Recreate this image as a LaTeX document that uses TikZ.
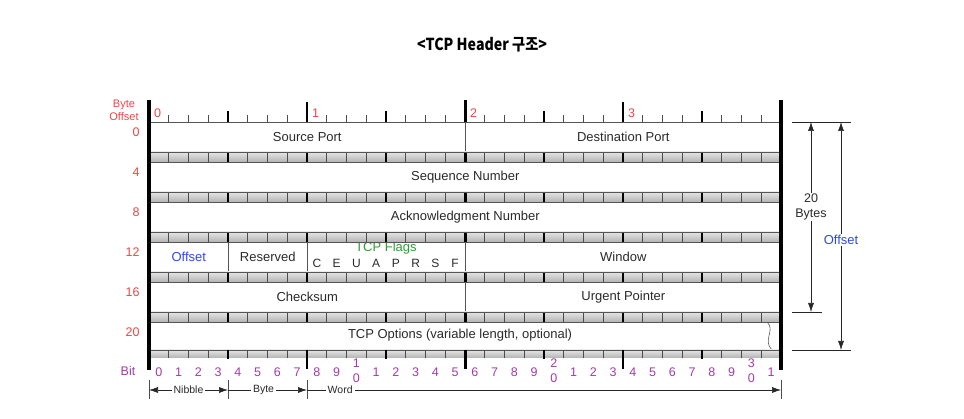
\documentclass[tikz,border=0pt]{standalone}
\usepackage{fontspec}
\setmainfont{Liberation Sans}
\newfontfamily\titlefont[FakeStretch=0.86]{Noto Sans CJK KR}
\usetikzlibrary{arrows.meta}
\definecolor{offred}{HTML}{F04444}
\definecolor{bitpurple}{HTML}{A23BA8}
\definecolor{offblue}{HTML}{3048F0}
\definecolor{flaggreen}{HTML}{2E9E2E}
\definecolor{txt}{HTML}{2A2A2A}
\definecolor{edge}{HTML}{555555}
\tikzset{
  field/.style={draw=edge, line width=0.6pt, fill=white, text=txt, anchor=north west, minimum height=30, inner sep=0pt, font=\fontsize{13}{15}\selectfont},
  rowlabel/.style={text=offred, anchor=east, font=\fontsize{12.5}{14}\selectfont},
  bitnum/.style={text=bitpurple, font=\fontsize{12.5}{13}\selectfont, inner sep=0pt},
  minortick/.style={draw=gray!60!black, line width=0.6pt},
  nibtick/.style={draw=black, line width=1.2pt},
  bytetick/.style={draw=black, line width=1.5pt},
  halftick/.style={draw=black, line width=3pt},
  border/.style={draw=black, line width=3.5pt},
  dimarrow/.style={draw=black!85, line width=0.6pt, {Latex[length=9pt,width=6pt]}-{Latex[length=9pt,width=6pt]}},
  onearrow/.style={draw=black!85, line width=0.6pt, -{Latex[length=9pt,width=6pt]}},
  small/.style={font=\fontsize{10.5}{12}\selectfont, text=txt, fill=white, inner sep=2pt},
}
\begin{document}
\begin{tikzpicture}[x=1pt,y=-1pt]
\useasboundingbox (0,0) rectangle (964,419);
\def\W{19.75}
% title
\node (title) at (482,45) {\titlefont\bfseries\fontsize{16.5}{18}\selectfont <TCP Header 구조>};

% fields
\node[field, minimum width=316] (src) at (149,122) {Source Port};
\node[field, minimum width=316] (dst) at (465,122) {Destination Port};
\node[field, minimum width=632] (seq) at (149,162) {Sequence Number};
\node[field, minimum width=632] (ack) at (149,202) {Acknowledgment Number};
\node[field, minimum width=79, text=offblue] (off) at (149,242) {Offset};
\node[field, minimum width=79] (res) at (228,242) {Reserved};
\node[field, minimum width=158] (flags) at (307,242) {};
\node[field, minimum width=316] (win) at (465,242) {Window};
\node[field, minimum width=316] (chk) at (149,282) {Checksum};
\node[field, minimum width=316] (urg) at (465,282) {Urgent Pointer};
\draw[draw=edge, line width=0.6pt, fill=white] (149,322) -- (767,322) .. controls (776,330) and (762,340) .. (772,350) -- (149,350) -- cycle;
\node[text=txt, font=\fontsize{13}{15}\selectfont] (opt) at (460,335) {TCP Options (variable length, optional)};

\node[text=flaggreen, font=\fontsize{13}{15}\selectfont] (flagtitle) at (386,248) {TCP Flags};
\foreach \l [count=\k from 8] in {C,E,U,A,P,R,S,F}
  \node[text=txt, font=\fontsize{12}{13}\selectfont] (flag\k) at ({149+(\k+0.5)*\W},263) {\l};

% grey bands
\foreach \y/\h in {152/10,192/10,232/10,272/10,312/10,350/8} {
  \shade[top color=gray!20, bottom color=gray!60] (149,\y) rectangle (781,\y+\h);
  \foreach \i in {1,...,31}
    \draw[minortick] ({149+\i*\W},\y) -- ++(0,\h);
  \foreach \i in {4,12,20,28}
    \draw[nibtick] ({149+\i*\W},\y) -- ++(0,\h);
  \foreach \i in {8,24}
    \draw[bytetick] ({149+\i*\W},\y) -- ++(0,\h);
  \draw[halftick] ({149+16*\W},\y) -- ++(0,\h);
  \draw[draw=edge, line width=0.8pt] (149,\y) -- (781,\y);
}
\foreach \y in {162,202,242,282,322}
  \draw[draw=edge, line width=0.8pt] (149,\y) -- (781,\y);

% top ruler
\draw[draw=edge, line width=0.8pt] (149,122) -- (781,122);
\foreach \i in {1,...,31}
  \draw[minortick] ({149+\i*\W},115) -- ({149+\i*\W},122);
\foreach \i in {4,12,20,28}
  \draw[nibtick] ({149+\i*\W},111) -- ({149+\i*\W},122);
\foreach \i in {8,24}
  \draw[bytetick] ({149+\i*\W},102) -- ({149+\i*\W},122);
\draw[halftick] ({149+16*\W},100) -- ({149+16*\W},122);
\foreach \k in {0,1,2,3}
  \node[text=offred, anchor=west, font=\fontsize{12.5}{14}\selectfont, inner sep=0pt] (byte\k) at ({149+8*\k*\W+5},113) {\k};

% bottom ruler
\foreach \i in {1,...,31}
  \draw[minortick] ({149+\i*\W},350) -- ({149+\i*\W},356);
\foreach \i in {4,12,20,28}
  \draw[nibtick] ({149+\i*\W},350) -- ({149+\i*\W},359);
\foreach \i in {8,24}
  \draw[bytetick] ({149+\i*\W},350) -- ({149+\i*\W},369);
\draw[halftick] ({149+16*\W},350) -- ({149+16*\W},369);

% borders
\draw[border] (149,100) -- (149,370);
\draw[border] (781,100) -- (781,370);

% left labels
\node[text=offred, align=center, font=\fontsize{11}{13}\selectfont] (byteoff) at (124,110) {Byte\\Offset};
\foreach \r/\t in {0/122,4/162,8/202,12/242,16/282,20/322}
  \node[rowlabel] (rl\r) at (143,\t+10) {\r};
\node[text=bitpurple, font=\fontsize{12.5}{14}\selectfont] (bitlabel) at (128,371) {Bit};

% bit numbers
\foreach \i in {0,...,31} {
  \pgfmathtruncatemacro{\d}{mod(\i,10)}
  \pgfmathtruncatemacro{\t}{\i/10}
  \pgfmathsetmacro{\bxx}{149+(\i+0.5)*\W}
  \ifnum\i>0 \ifnum\d=0
    \node[bitnum] (bt\i) at (\bxx,363) {\t};
    \node[bitnum] (bn\i) at (\bxx,378) {0};
  \else
    \node[bitnum] (bn\i) at (\bxx,372) {\d};
  \fi \else
    \node[bitnum] (bn\i) at (\bxx,372) {\d};
  \fi
}

% nibble / byte / word
\foreach \x in {149,228,307,781} {
  \draw[draw=black!70, line width=0.6pt] (\x,380) -- (\x,399);
}
\coordinate (ua) at (149,390);
\coordinate (ub) at (228,390);
\coordinate (uc) at (307,390);
\coordinate (ud) at (781,390);
\draw[dimarrow] (ua) -- (ub) node[small, midway] (nib) {Nibble};
\draw[onearrow] (ub) -- (uc) node[small, pos=0.45] (byt) {Byte};
\draw[onearrow] (uc) -- (ud) node[small, pos=0.07] (wrd) {Word};

% right dimension lines
\coordinate (d1) at (811,122); \coordinate (d2) at (811,312);
\coordinate (e1) at (841,122); \coordinate (e2) at (841,350);
\draw[draw=black!85, line width=0.6pt] (792,122) -- (851,122);
\draw[draw=black!85, line width=0.6pt] (792,312) -- (822,312);
\draw[draw=black!85, line width=0.6pt] (792,350) -- (851,350);
\draw[dimarrow] (d1) -- (d2);
\node[fill=white, align=center, text=txt, font=\fontsize{12.5}{15}\selectfont, inner sep=1pt] (twenty) at (811,207) {20\\Bytes};
\draw[dimarrow] (e1) -- (e2);
\node[fill=white, text=offblue, font=\fontsize{13}{14}\selectfont, inner sep=1pt] (offlab) at (841,240) {Offset};
\end{tikzpicture}
\end{document}
